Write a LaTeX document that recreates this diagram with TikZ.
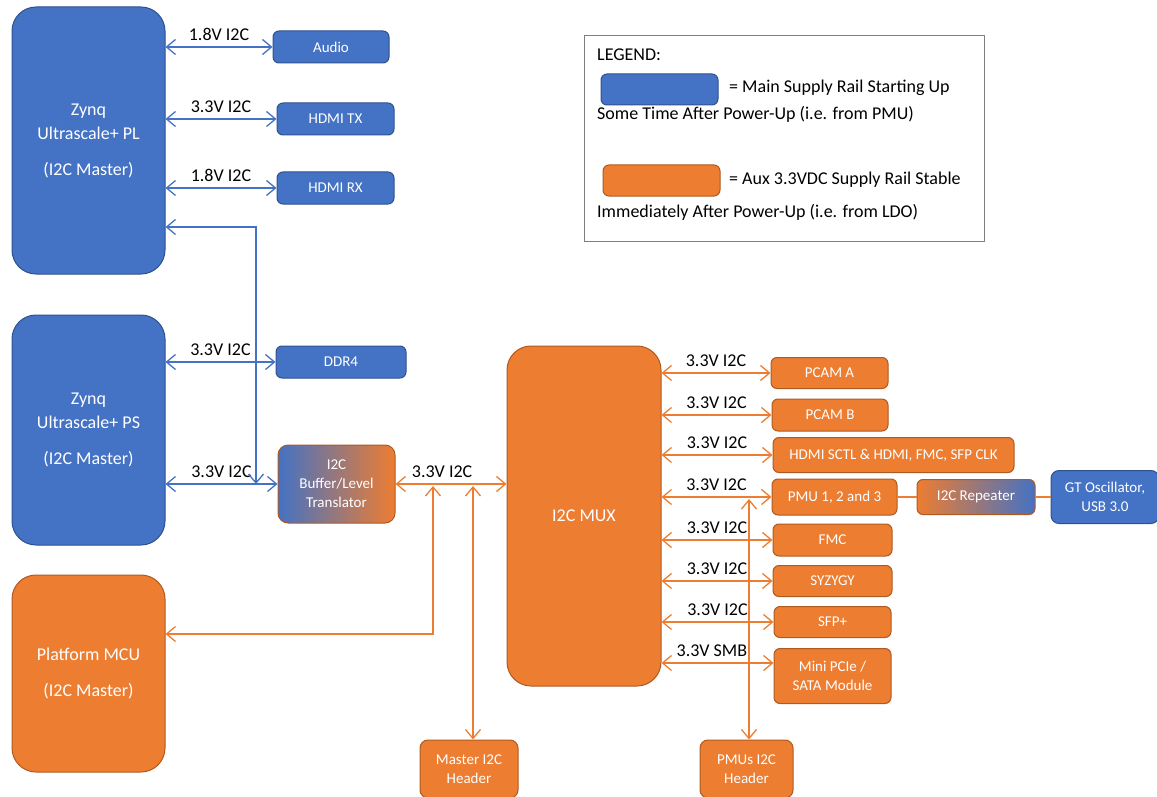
\documentclass[tikz,border=0pt]{standalone}
\usepackage{fontspec}
\setmainfont{Carlito}
\usetikzlibrary{arrows.meta}
\definecolor{zblue}{HTML}{4472C4}
\definecolor{zblueD}{HTML}{2F528F}
\definecolor{zorange}{HTML}{ED7D31}
\definecolor{zorangeD}{HTML}{AE5A21}
\definecolor{lgray}{HTML}{7F7F7F}
\tikzset{
  box/.style={rounded corners=6pt, line width=1pt, text=white, align=center, inner sep=0pt, font=\fontsize{15}{19}\selectfont},
  bbox/.style={box, fill=zblue, draw=zblueD},
  obox/.style={box, fill=zorange, draw=zorangeD},
  bigbox/.style={rounded corners=24pt, font=\fontsize{18}{24}\selectfont},
  barb/.tip={Straight Barb[length=9pt,width=15pt,line width=1.3pt]},
  bline/.style={draw=zblue, line width=1.4pt},
  oline/.style={draw=zorange, line width=1.4pt},
  bcon/.style={bline, barb-barb},
  ocon/.style={oline, barb-barb},
  lab/.style={above=5pt, inner sep=1pt, text=black, font=\fontsize{18}{20}\selectfont},
  legtxt/.style={anchor=base west, inner sep=0pt, text=black, font=\fontsize{18}{20}\selectfont},
}
\begin{document}
\begin{tikzpicture}[x=1pt,y=-1pt]
\useasboundingbox (0,0) rectangle (1157,797);

% legend
\node[draw=lgray, line width=1pt, minimum width=400pt, minimum height=205pt, inner sep=0pt] (legend) at (784,138.5) {};
\node[legtxt] (legT) at (597,61) {LEGEND:};
\node[bbox, minimum width=117pt, minimum height=31pt] (swB) at (659.5,89.5) {};
\node[legtxt] (legB1) at (729,93) {= Main Supply Rail Starting Up};
\node[legtxt] (legB2) at (597,120) {Some Time After Power-Up (i.e. from PMU)};
\node[obox, minimum width=117pt, minimum height=31pt] (swO) at (661.5,180.5) {};
\node[legtxt] (legO1) at (729,184) {= Aux 3.3VDC Supply Rail Stable};
\node[legtxt] (legO2) at (597,217) {Immediately After Power-Up (i.e. from LDO)};

% left big boxes
\node[bbox, bigbox, minimum width=153pt, minimum height=267pt] (PL) at (88.5,140.5) {Zynq\\Ultrascale+ PL\\[12pt](I2C Master)};
\node[bbox, bigbox, minimum width=153pt, minimum height=230pt] (PS) at (88.5,430) {Zynq\\Ultrascale+ PS\\[12pt](I2C Master)};
\node[obox, bigbox, minimum width=153pt, minimum height=197pt] (MCU) at (88.5,673.5) {Platform MCU\\[12pt](I2C Master)};

% blue peripherals
\node[bbox, minimum width=116pt, minimum height=32pt] (audio) at (331,47) {Audio};
\node[bbox, minimum width=117pt, minimum height=32pt] (tx) at (335.5,119) {HDMI TX};
\node[bbox, minimum width=117pt, minimum height=32pt] (rx) at (335.5,188) {HDMI RX};
\node[bbox, minimum width=130pt, minimum height=32pt] (ddr) at (341,362) {DDR4};

% buffer
\node[box, rounded corners=10pt, draw=zorangeD, left color=zblue, right color=zorange, minimum width=117pt, minimum height=78pt] (buf) at (336.5,484) {I2C\\Buffer/Level\\Translator};

% mux
\node[obox, bigbox, minimum width=154pt, minimum height=340pt] (mux) at (584,516) {I2C MUX};

% right boxes
\node[obox, minimum width=117pt, minimum height=31pt] (pa) at (829.5,373) {PCAM A};
\node[obox, minimum width=116pt, minimum height=32pt] (pb) at (830,415) {PCAM B};
\node[obox, minimum width=241pt, minimum height=35pt] (hs) at (893.5,455) {HDMI SCTL \& HDMI, FMC, SFP CLK};
\node[obox, minimum width=125pt, minimum height=36pt] (pmu) at (834.5,497) {PMU 1, 2 and 3};
\node[obox, minimum width=119pt, minimum height=32pt] (fmc) at (832.5,540) {FMC};
\node[obox, minimum width=119pt, minimum height=31pt] (syz) at (832.5,581) {SYZYGY};
\node[obox, minimum width=117pt, minimum height=31pt] (sfp) at (832.5,622) {SFP+};
\node[obox, minimum width=117pt, minimum height=55pt] (mini) at (832.5,676) {Mini PCIe /\\SATA Module};
\node[box, draw=zorangeD, left color=zorange, right color=zblue, minimum width=118pt, minimum height=35pt] (rep) at (976,497) {I2C Repeater};
\node[bbox, rounded corners=8pt, minimum width=108pt, minimum height=53pt] (gt) at (1105,497) {GT Oscillator,\\USB 3.0};

% headers
\node[obox, rounded corners=8pt, minimum width=98pt, minimum height=58pt] (mh) at (469,769) {Master I2C\\Header};
\node[obox, rounded corners=8pt, minimum width=93pt, minimum height=58pt] (ph) at (746.5,769) {PMUs I2C\\Header};

% blue connectors
\draw[bcon] (PL.east |- audio.west) -- node[lab]{1.8V I2C} (audio.west);
\draw[bcon] (PL.east |- tx.west) -- node[lab]{3.3V I2C} (tx.west);
\draw[bcon] (PL.east |- rx.west) -- node[lab]{1.8V I2C} (rx.west);
\draw[bcon] (PS.east |- ddr.west) -- node[lab]{3.3V I2C} (ddr.west);
\draw[bcon] (PS.east |- buf.west) -- node[lab]{3.3V I2C} (buf.west);
\coordinate (tapTop) at (256,227);
\coordinate (tapBot) at (256,484);
\draw[bcon] (PL.east |- tapTop) -- (tapTop) -- (tapBot);

% orange connectors
\draw[ocon] (buf.east) -- node[lab, pos=0.42]{3.3V I2C} (mux.west |- buf.east);
\coordinate (jA) at (433,486);
\coordinate (jAc) at (433,634);
\draw[ocon] (jA) -- (jAc) -- (MCU.east |- jAc);
\coordinate (jB) at (473,486);
\draw[ocon] (jB) -- (jB |- mh.north);
\draw[ocon] (mux.east |- pa.west) -- node[lab]{3.3V I2C} (pa.west);
\draw[ocon] (mux.east |- pb.west) -- node[lab]{3.3V I2C} (pb.west);
\draw[ocon] (mux.east |- hs.west) -- node[lab]{3.3V I2C} (hs.west);
\draw[ocon] (mux.east |- pmu.west) -- node[lab]{3.3V I2C} (pmu.west);
\draw[ocon] (mux.east |- fmc.west) -- node[lab]{3.3V I2C} (fmc.west);
\draw[ocon] (mux.east |- syz.west) -- node[lab]{3.3V I2C} (syz.west);
\draw[ocon] (mux.east |- sfp.west) -- node[lab]{3.3V I2C} (sfp.west);
\coordinate (mpA) at ([yshift=13pt]mini.west);
\draw[ocon] (mux.east |- mpA) -- node[lab, pos=0.45]{3.3V SMB} (mpA);
\coordinate (jC) at (749,499);
\draw[ocon] (jC) -- (jC |- ph.north);
\draw[oline] (pmu.east) -- (rep.west);
\draw[oline] (rep.east) -- (gt.west);
\end{tikzpicture}
\end{document}
